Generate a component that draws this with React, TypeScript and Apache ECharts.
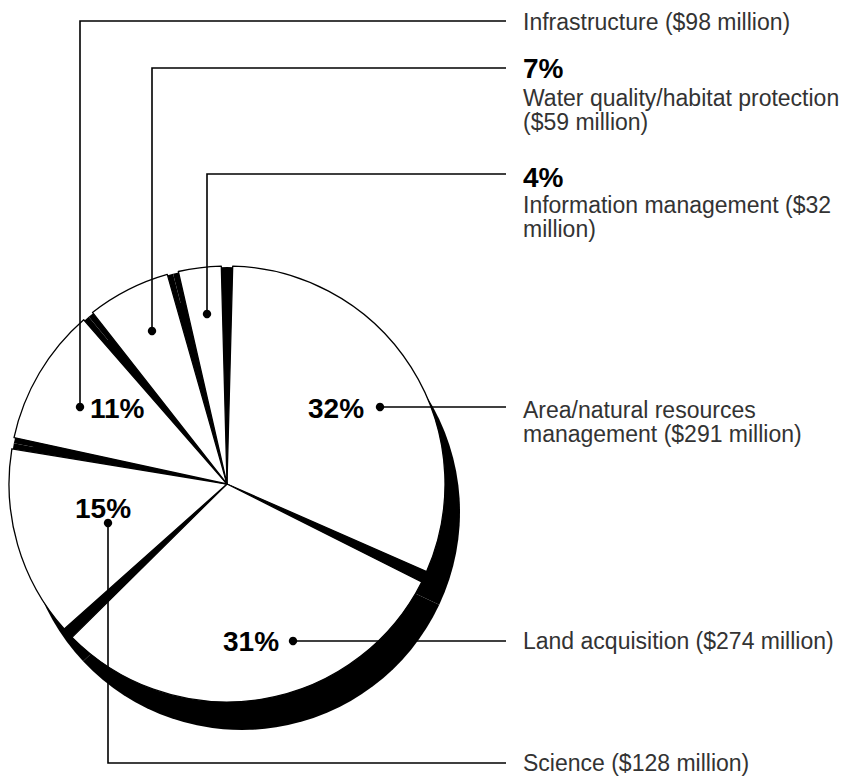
import React, { useEffect, useRef } from "react";
import * as echarts from "echarts";

// ---- data ----
const categories = [
  "Area/natural resources management",
  "Land acquisition",
  "Science",
  "Infrastructure",
  "Water quality/habitat protection",
  "Information management",
];
const percents = [32, 31, 15, 11, 7, 4];
const millions = [291, 274, 128, 98, 59, 32];

// ---- layout of the annotations (positions only) ----
const pctPos: [number, number][] = [
  [308, 408],
  [223, 641],
  [75, 508],
  [90, 408],
  [523, 68],
  [523, 177],
];
const dotPos: [number, number][] = [
  [380, 407],
  [293, 641],
  [108, 523],
  [80, 407],
  [152, 331],
  [207, 314],
];
const elbowY = [407, 641, 763, 21, 68, 174];
const descY = [410, 641, 763, 22, 98, 205];
const LINE_END = 506;
const TEXT_X = 523;
const LINE_H = 24;

const FONT = '"Liberation Sans", Arial, Helvetica, sans-serif';

export default function App() {
  const ref = useRef<HTMLDivElement>(null);

  useEffect(() => {
    if (!ref.current) return;
    const chart = echarts.init(ref.current, undefined, { renderer: "svg" });

    const pieData = categories.map((c, i) => ({ name: c, value: percents[i] }));

    const graphics: any[] = [];
    categories.forEach((c, i) => {
      const [dx, dy] = dotPos[i];
      const pts: number[][] =
        elbowY[i] === dy
          ? [
              [dx, dy],
              [LINE_END, dy],
            ]
          : [
              [dx, dy],
              [dx, elbowY[i]],
              [LINE_END, elbowY[i]],
            ];
      graphics.push({
        type: "polyline",
        z: 100,
        silent: true,
        shape: { points: pts },
        style: { stroke: "#000", lineWidth: 1.6, fill: null },
      });
      graphics.push({
        type: "circle",
        z: 101,
        silent: true,
        shape: { cx: dx, cy: dy, r: 4.2 },
        style: { fill: "#000" },
      });
      graphics.push({
        type: "text",
        z: 102,
        silent: true,
        x: pctPos[i][0],
        y: pctPos[i][1],
        style: {
          text: `${percents[i]}%`,
          font: `bold 28px ${FONT}`,
          fill: "#000",
          align: "left",
          verticalAlign: "middle",
        },
      });
      graphics.push({
        type: "text",
        z: 102,
        silent: true,
        x: TEXT_X,
        y: descY[i] - LINE_H / 2,
        style: {
          text: `${c} ($${millions[i]} million)`,
          font: `23px ${FONT}`,
          fill: "#333",
          align: "left",
          verticalAlign: "top",
          lineHeight: LINE_H,
          width: 335,
          overflow: "break",
        },
      });
    });

    const basePie = {
      type: "pie",
      startAngle: 90,
      clockwise: true,
      silent: true,
      animation: false,
      avoidLabelOverlap: false,
      label: { show: false },
      labelLine: { show: false },
      emphasis: { disabled: true },
      data: pieData,
    };

    chart.setOption({
      animation: false,
      backgroundColor: "#fff",
      series: [
        {
          ...basePie,
          name: "shadow",
          z: 1,
          center: [242, 512],
          radius: 218,
          itemStyle: { color: "#000", borderWidth: 0 },
        },
        {
          ...basePie,
          name: "sides",
          z: 2,
          center: [227, 484],
          radius: 217,
          itemStyle: { color: "#000", borderWidth: 0 },
        },
        {
          ...basePie,
          name: "tops",
          z: 3,
          center: [227, 484],
          radius: 218,
          padAngle: 3,
          itemStyle: { color: "#fff", borderColor: "#000", borderWidth: 1.3 },
        },
      ],
      graphic: { elements: graphics },
    });

    return () => chart.dispose();
  }, []);

  return (
    <div
      ref={ref}
      style={{ position: "absolute", left: 0, top: 0, width: 862, height: 776 }}
    />
  );
}
